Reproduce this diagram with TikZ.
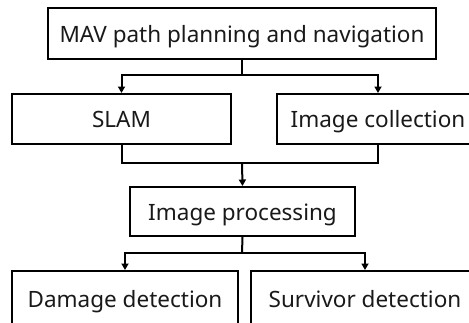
\documentclass[tikz,border=0pt]{standalone}
\usepackage{fontspec}
\setmainfont{Noto Sans}
\usetikzlibrary{arrows.meta}
\begin{document}
\begin{tikzpicture}[x=1pt,y=-1pt,
  box/.style={draw,line width=2pt,inner sep=0pt,text height=17.5pt,text depth=0pt,font=\fontsize{22.5}{26}\selectfont,text=black!90},
  conn/.style={line width=2pt},
  arr/.style={line width=2pt,-{Triangle[length=6.5pt,width=7pt]}}]
\useasboundingbox (0,0) rectangle (469,322);
\clip (0,0) rectangle (469,322);
\node[box,minimum width=388pt,minimum height=51pt] (top) at (242,33.5) {MAV path planning and navigation};
\node[box,minimum width=219pt,minimum height=50pt] (slam) at (121.5,119) {SLAM};
\node[box,minimum width=202pt,minimum height=50pt] (coll) at (378,119) {Image collection};
\node[box,minimum width=225pt,minimum height=49pt] (proc) at (242.5,211.5) {Image processing};
\node[box,minimum width=226pt,minimum height=56pt] (dam) at (125,299) {Damage detection};
\node[box,minimum width=228pt,minimum height=56pt] (surv) at (365,299) {Survivor detection};
\coordinate (j1) at (242,75);
\coordinate (j2) at (242,163);
\coordinate (j3) at (242,253);
\draw[conn] (top.south) -- (j1);
\draw[arr] (j1) -| (slam.north);
\draw[arr] (j1) -| (coll.north);
\draw[conn] (slam.south) |- (j2) -| (coll.south);
\draw[arr] (j2) -- (proc.north);
\draw[conn] (proc.south) -- (j3);
\draw[arr] (j3) -| (dam.north);
\draw[arr] (j3) -| (surv.north);
\end{tikzpicture}
\end{document}
